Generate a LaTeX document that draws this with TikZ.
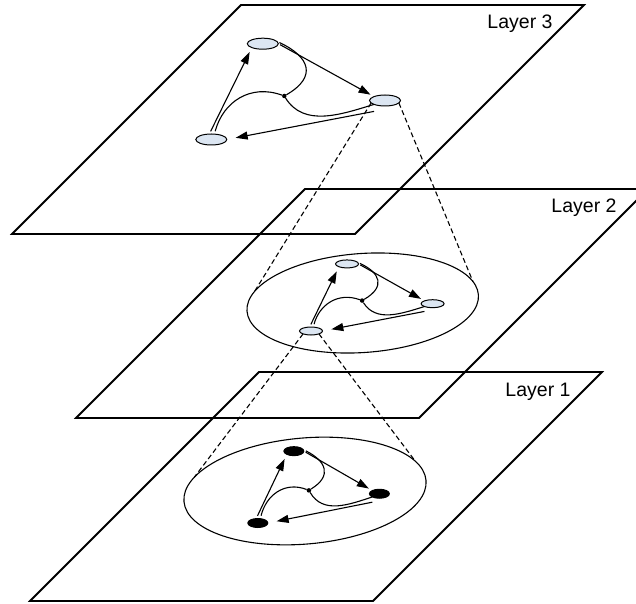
\documentclass[tikz,border=0pt]{standalone}
\usepackage{fontspec}
\setmainfont{Liberation Sans}
\usetikzlibrary{arrows.meta,shapes.geometric}
\definecolor{vfill}{RGB}{220,230,242}

\begin{document}
\begin{tikzpicture}[x=1pt,y=1pt,
    plane/.style={line width=1.8pt, line join=miter},
    zone/.style={draw, ellipse, line width=1.1pt, inner sep=0pt, outer sep=0pt},
    vbig/.style={draw, ellipse, fill=vfill, line width=1pt, inner sep=0pt, outer sep=0pt, minimum width=31pt, minimum height=11pt},
    vsmall/.style={vbig, minimum width=23pt, minimum height=8pt},
    vsolid/.style={draw, ellipse, fill=black, line width=1pt, inner sep=0pt, outer sep=0pt, minimum width=20pt, minimum height=9pt},
    hub/.style={circle, fill=black, inner sep=0pt, minimum size=4.5pt},
    link/.style={line width=1.1pt},
    arc/.style={link, -{Triangle[length=12pt,width=8pt]}},
    proj/.style={line width=1.1pt, dash pattern=on 5pt off 3pt}]
  \useasboundingbox (0,0) rectangle (636,603);
  \clip (0,0) rectangle (636,603);
  % the three layers
  \foreach \lay/\px/\py in {3/12/369, 2/76/185, 1/30/2} {
    \draw[plane] (\px,\py) -- ++(343,0) -- ++(229,229) -- ++(-343,0) -- cycle;
    \node[anchor=base, font=\fontsize{19.5}{23}\selectfont] (L\lay) at (\px+508,\py+205) {Layer \lay};
  }
  % zoomed areas
  \node[zone, rotate=4, minimum width=232pt, minimum height=99pt] (E2) at (362.7,300) {};
  \node[zone, rotate=5, minimum width=243pt, minimum height=106pt] (E1) at (305,112) {};
  % same graph on every layer
  \foreach \g/\cx/\cy/\sx/\sy/\kind in {3/211.3/463.5/1/1/vbig, 2/311/272/0.7/0.7/vsmall, 1/257.8/80/0.7/0.75/vsolid} {
    \begin{scope}[shift={(\cx,\cy)}, xscale=\sx, yscale=\sy]
      \node[\kind] (C\g) at (0,0) {};
      \node[\kind] (A\g) at (51.5,95.8) {};
      \node[\kind] (B\g) at (173.7,39) {};
      \node[hub] (J\g) at (73,43.5) {};
      \draw[arc, shorten <=3pt, shorten >=5pt] (C\g.110) -- (A\g.south west);
      \draw[arc, shorten <=2pt, shorten >=4pt] (A\g.east) -- (B\g.north west);
      \draw[arc, shorten >=9pt] ([yshift=-7pt]B\g.south west) -- (C\g.east);
      \draw[link, shorten <=3pt] (C\g.60) to[out=75, in=160, looseness=1.1] (J\g);
      \draw[link, shorten <=3pt] (A\g.10) to[out=-25, in=30, looseness=1.7] (J\g);
      \draw[link] (J\g) to[out=-58, in=197] (B\g.south west);
    \end{scope}
  }
  % projections between layers
  \draw[proj] (B3.190) -- (E2.170);
  \draw[proj] (B3.-10) -- (E2.7);
  \draw[proj] (C2.200) -- (E1.168);
  \draw[proj] (C2.-20) -- (E1.10);
\end{tikzpicture}
\end{document}
